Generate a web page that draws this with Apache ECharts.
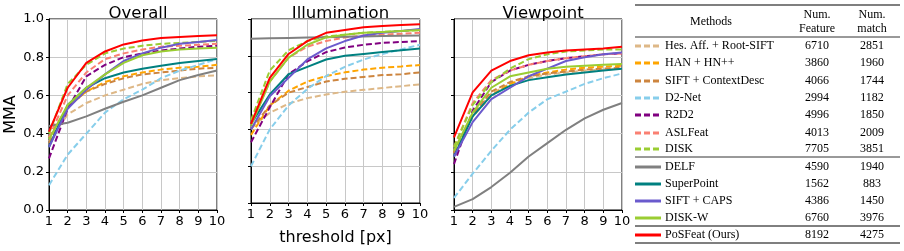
<!DOCTYPE html>
<html><head><meta charset="utf-8">
<script src="https://cdn.jsdelivr.net/npm/echarts@6/dist/echarts.min.js"></script>
<style>html,body{margin:0;padding:0;background:#fff}#c{width:904px;height:251px}</style>
</head><body><div id="c"></div>
<script>
const thresholds = [1,2,3,4,5,6,7,8,9,10];
const panelTitles = ['Overall','Illumination','Viewpoint'];
const yTicks = [0.0,0.2,0.4,0.6,0.8,1.0];
const methods = ['Hes. Aff. + Root-SIFT','HAN + HN++','SIFT + ContextDesc','D2-Net','R2D2','ASLFeat','DISK','DELF','SuperPoint','SIFT + CAPS','DISK-W','PoSFeat (Ours)'];
const numFeature = ['6710','3860','4066','2994','4996','4013','7705','4590','1562','4386','6760','8192'];
const numMatch = ['2851','1960','1744','1182','1850','2009','3851','1940','883','1450','3976','4275'];

const overallMMA = [
  [0.36,0.50,0.56,0.60,0.63,0.66,0.68,0.69,0.70,0.705],
  [0.38,0.54,0.62,0.67,0.70,0.72,0.735,0.745,0.75,0.76],
  [0.35,0.54,0.62,0.66,0.69,0.71,0.72,0.73,0.74,0.745],
  [0.13,0.29,0.40,0.51,0.58,0.63,0.69,0.73,0.76,0.79],
  [0.27,0.53,0.70,0.76,0.80,0.82,0.835,0.845,0.855,0.86],
  [0.38,0.60,0.72,0.79,0.82,0.84,0.855,0.86,0.865,0.87],
  [0.40,0.66,0.76,0.82,0.845,0.86,0.87,0.875,0.88,0.885],
  [0.44,0.457,0.49,0.53,0.567,0.60,0.64,0.68,0.707,0.73],
  [0.33,0.55,0.64,0.69,0.72,0.74,0.755,0.77,0.78,0.79],
  [0.33,0.53,0.63,0.71,0.78,0.82,0.85,0.87,0.88,0.89],
  [0.37,0.55,0.64,0.71,0.77,0.81,0.83,0.84,0.845,0.85],
  [0.41,0.64,0.77,0.83,0.867,0.887,0.90,0.906,0.911,0.915]
];
const illumMMA = [
  [0.41,0.49,0.54,0.57,0.59,0.605,0.615,0.625,0.635,0.645],
  [0.37,0.53,0.61,0.66,0.69,0.71,0.725,0.735,0.742,0.75],
  [0.40,0.53,0.60,0.63,0.66,0.675,0.685,0.695,0.70,0.71],
  [0.20,0.40,0.53,0.62,0.69,0.74,0.78,0.81,0.835,0.86],
  [0.33,0.52,0.70,0.77,0.82,0.845,0.86,0.87,0.875,0.88],
  [0.43,0.66,0.79,0.85,0.88,0.90,0.91,0.915,0.92,0.925],
  [0.45,0.72,0.83,0.88,0.905,0.915,0.925,0.93,0.935,0.94],
  [0.893,0.895,0.897,0.899,0.901,0.903,0.905,0.907,0.909,0.91],
  [0.43,0.59,0.70,0.74,0.78,0.80,0.81,0.82,0.83,0.84],
  [0.40,0.58,0.68,0.78,0.84,0.88,0.91,0.925,0.935,0.945],
  [0.42,0.66,0.79,0.86,0.90,0.915,0.925,0.93,0.935,0.94],
  [0.43,0.68,0.81,0.88,0.925,0.94,0.955,0.962,0.967,0.972]
];
const viewMMA = [
  [0.31,0.50,0.61,0.66,0.69,0.71,0.72,0.73,0.735,0.74],
  [0.30,0.49,0.60,0.66,0.70,0.72,0.735,0.745,0.75,0.755],
  [0.30,0.50,0.62,0.67,0.70,0.715,0.725,0.735,0.74,0.745],
  [0.063,0.19,0.31,0.42,0.51,0.58,0.62,0.66,0.69,0.715],
  [0.24,0.52,0.67,0.73,0.76,0.78,0.795,0.805,0.815,0.82],
  [0.33,0.56,0.68,0.73,0.76,0.78,0.795,0.805,0.815,0.82],
  [0.33,0.55,0.67,0.74,0.79,0.815,0.83,0.835,0.84,0.84],
  [0.016,0.057,0.12,0.195,0.28,0.35,0.42,0.48,0.525,0.56],
  [0.28,0.49,0.60,0.65,0.68,0.695,0.71,0.72,0.73,0.74],
  [0.28,0.46,0.58,0.64,0.70,0.74,0.78,0.80,0.815,0.825],
  [0.31,0.51,0.64,0.70,0.72,0.74,0.75,0.755,0.76,0.765],
  [0.38,0.616,0.73,0.78,0.81,0.825,0.835,0.84,0.845,0.855]
];

const colors = ['#deb887','#ffa500','#cd853f','#87ceeb','#800080','#fa8072','#9acd32','#808080','#008080','#6a5acd','#9acd32','#ff0000'];
const dashed = [true,true,true,true,true,true,true,false,false,false,false,false];
const panels = [overallMMA, illumMMA, viewMMA];

const gridPos = [{left:49,width:168},{left:251,width:169},{left:454,width:168}];
const sans = 'DejaVu Sans';
const serif = 'Liberation Serif';

const grid = gridPos.map(g => ({left:g.left, width:g.width, top:19, height:191, show:true, borderColor:'#000', borderWidth:1, backgroundColor:'transparent'}));
const xAxis = gridPos.map((g,i) => ({
  type:'value', gridIndex:i, min:1, max:10, interval:1,
  axisLine:{show:true, lineStyle:{color:'#000'}},
  axisTick:{show:true, length:3, lineStyle:{color:'#000'}},
  axisLabel:{fontFamily:sans, fontSize:13, color:'#000', margin:5},
  splitLine:{show:true, lineStyle:{color:'#c8c8c8', width:1}},
  name: i===1 ? 'threshold [px]' : '', nameLocation:'middle', nameGap:27,
  nameTextStyle:{fontFamily:sans, fontSize:16, color:'#000'}
}));
const yAxis = gridPos.map((g,i) => ({
  type:'value', gridIndex:i, min:0, max:1, interval:0.2,
  axisLine:{show:true, lineStyle:{color:'#000'}},
  axisTick:{show:true, length:3, lineStyle:{color:'#000'}},
  axisLabel:{show:i===0, fontFamily:sans, fontSize:13, color:'#000', margin:5, formatter:v=>v.toFixed(1)},
  splitLine:{show:true, lineStyle:{color:'#c8c8c8', width:1}},
  name: i===0 ? 'MMA' : '', nameLocation:'middle', nameGap:30, nameRotate:90,
  nameTextStyle:{fontFamily:sans, fontSize:16, color:'#000'}
}));

const series = [];
panels.forEach((vals,p) => {
  vals.forEach((arr,m) => {
    series.push({
      type:'line', xAxisIndex:p, yAxisIndex:p, name:methods[m],
      data: thresholds.map((t,k)=>[t,arr[k]]),
      showSymbol:false, symbol:'none', animation:false, clip:true,
      lineStyle:{color:colors[m], width:2, type: dashed[m] ? [6,3] : 'solid'},
      z: 2 + m
    });
  });
});

const title = panelTitles.map((t,i) => ({
  text:t, left: gridPos[i].left + gridPos[i].width/2, top:0, textAlign:'center',
  textStyle:{fontFamily:sans, fontSize:16.5, fontWeight:'normal', color:'#000'}
}));

// table
const graphic = [];
const tl = 635, tr = 900;
const rowY = [46,63,81,98,115,133,149,167,184,201,218,235];
const hline = (y,w) => graphic.push({type:'line', shape:{x1:tl,y1:y,x2:tr,y2:y}, style:{stroke:'#000', lineWidth:w}});
hline(5,1.2); hline(37,0.8); hline(157,0.8); hline(226,1); hline(243,1.2);
const txt = (x,y,s,align) => graphic.push({type:'text', x:x, y:y, style:{text:s, fontFamily:serif, fontSize:12, fill:'#000', textAlign:align||'left', textVerticalAlign:'middle'}});
txt(711,22,'Methods','center');
txt(817,15,'Num.','center'); txt(817,29,'Feature','center');
txt(872,15,'Num.','center'); txt(872,29,'match','center');
methods.forEach((m,i) => {
  const y = rowY[i];
  graphic.push({type:'line', shape:{x1:635,y1:y,x2:661,y2:y}, style:{stroke:colors[i], lineWidth:3, lineDash: dashed[i] ? [6,3] : null}});
  txt(665,y,m,'left');
  txt(817,y,numFeature[i],'center');
  txt(872,y,numMatch[i],'center');
});

const chart = echarts.init(document.getElementById('c'), null, {renderer:'canvas'});
chart.setOption({animation:false, backgroundColor:'#fff', title, grid, xAxis, yAxis, series, graphic});
</script></body></html>
